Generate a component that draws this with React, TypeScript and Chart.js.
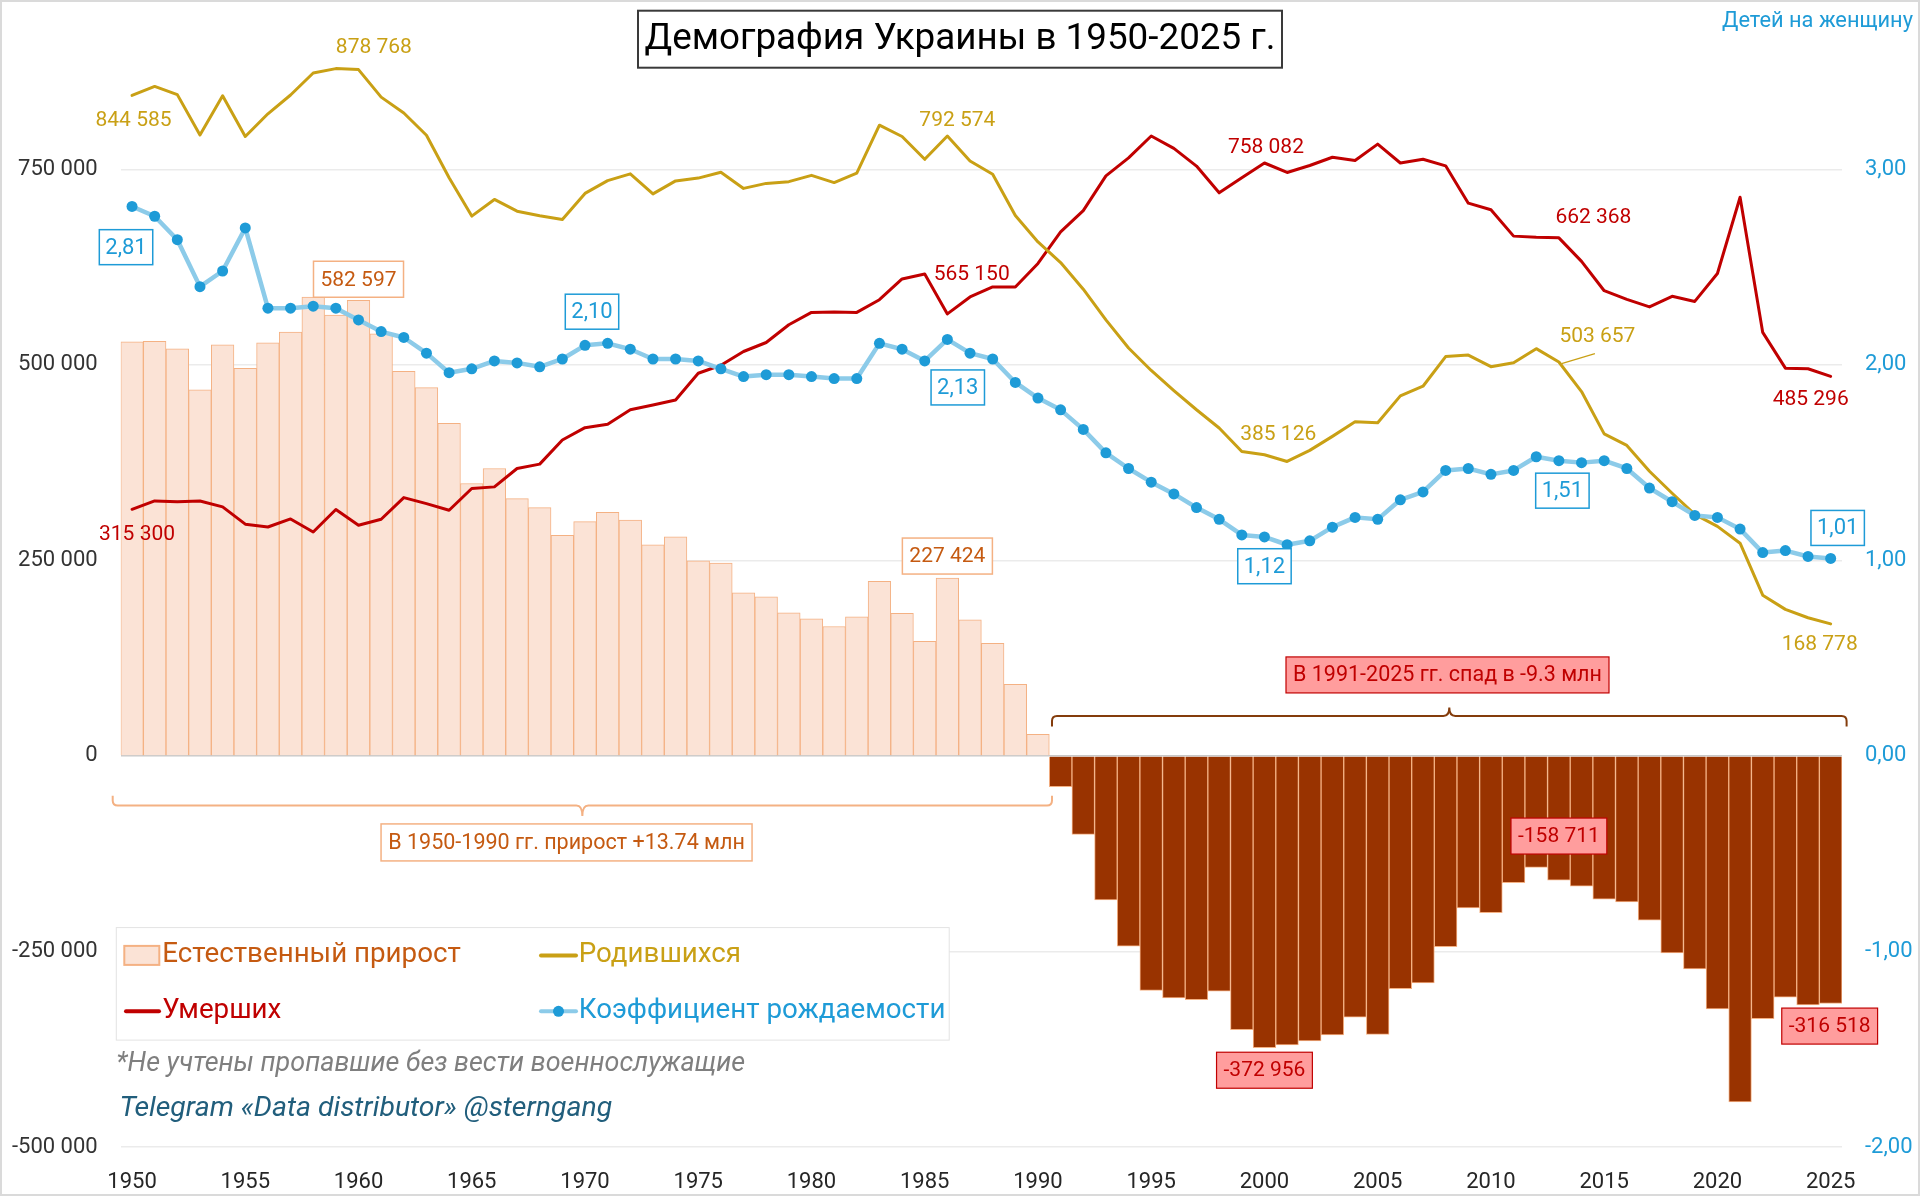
import React, { useEffect, useRef } from "react";
import { Chart, registerables } from "chart.js";

Chart.register(...registerables);

// ---------------- DATA ----------------
const years = [
  1950, 1951, 1952, 1953, 1954, 1955, 1956, 1957, 1958, 1959,
  1960, 1961, 1962, 1963, 1964, 1965, 1966, 1967, 1968, 1969,
  1970, 1971, 1972, 1973, 1974, 1975, 1976, 1977, 1978, 1979,
  1980, 1981, 1982, 1983, 1984, 1985, 1986, 1987, 1988, 1989,
  1990, 1991, 1992, 1993, 1994, 1995, 1996, 1997, 1998, 1999,
  2000, 2001, 2002, 2003, 2004, 2005, 2006, 2007, 2008, 2009,
  2010, 2011, 2012, 2013, 2014, 2015, 2016, 2017, 2018, 2019,
  2020, 2021, 2022, 2023, 2024, 2025,
];

// Родившихся
const births = [
  844585, 856000, 845500, 794000, 844000, 792000, 821000, 845000, 873100, 878768,
  877500, 842300, 822000, 793500, 739300, 690200, 711500, 696500, 690600, 685900,
  719200, 735500, 744200, 718600, 735200, 738800, 746200, 725600, 732000, 734200,
  742300, 733000, 745000, 806400, 792000, 762800, 792574, 760700, 743600, 691000,
  657202, 630813, 596785, 557467, 521545, 492861, 467211, 442581, 419238, 389208,
  385126, 376479, 390687, 408589, 427259, 426086, 460368, 472657, 510589, 512525,
  497689, 502595, 520705, 503657, 465882, 411781, 397037, 363987, 335874, 308817,
  293457, 271983, 205567, 187387, 176679, 168778,
];

// Умерших
const deaths = [
  315300, 326000, 325000, 326000, 318400, 296300, 292700, 303000, 286300, 315000,
  294900, 302600, 330300, 322600, 314100, 341900, 344000, 367500, 373100, 403900,
  419700, 424000, 442500, 448700, 455100, 489300, 499500, 517100, 528600, 551300,
  567100, 567500, 567100, 583300, 609800, 616200, 565150, 586800, 599600, 599600,
  629602, 669960, 697110, 741662, 764669, 792587, 776717, 754151, 719954, 739170,
  758082, 745952, 754911, 765408, 761263, 782189, 758093, 762877, 754460, 706739,
  698235, 664588, 663139, 662368, 632296, 594796, 583631, 574123, 587665, 581114,
  616835, 714263, 541500, 495800, 495000, 485296,
];

// Естественный прирост
const natural = [
  529285, 530000, 520500, 468000, 525600, 495700, 528300, 542000, 586800, 563768,
  582597, 539700, 491700, 470900, 425200, 348300, 367500, 329000, 317500, 282000,
  299500, 311500, 301700, 269900, 280100, 249500, 246700, 208500, 203400, 182900,
  175200, 165500, 177900, 223100, 182200, 146600, 227424, 173900, 144000, 91400,
  27600, -39147, -100325, -184195, -243124, -299726, -309506, -311570, -300716, -349962,
  -372956, -369473, -364224, -356819, -334004, -356103, -297725, -290220, -243871, -194214,
  -200546, -161993, -142434, -158711, -166414, -183015, -186594, -210136, -251791, -272297,
  -323378, -442280, -335900, -308400, -318300, -316518,
];

// Коэффициент рождаемости (детей на женщину)
const fertility = [
  2.81, 2.76, 2.64, 2.40, 2.48, 2.70, 2.29, 2.29, 2.30, 2.29,
  2.23, 2.17, 2.14, 2.06, 1.96, 1.98, 2.02, 2.01, 1.99, 2.03,
  2.10, 2.11, 2.08, 2.03, 2.03, 2.02, 1.98, 1.94, 1.95, 1.95,
  1.94, 1.93, 1.93, 2.11, 2.08, 2.02, 2.13, 2.06, 2.03, 1.91,
  1.83, 1.77, 1.67, 1.55, 1.47, 1.40, 1.34, 1.27, 1.21, 1.13,
  1.12, 1.08, 1.10, 1.17, 1.22, 1.21, 1.31, 1.35, 1.46, 1.47,
  1.44, 1.46, 1.53, 1.51, 1.50, 1.51, 1.47, 1.37, 1.30, 1.23,
  1.22, 1.16, 1.04, 1.05, 1.02, 1.01,
];

const leftTicks = [-500000, -250000, 0, 250000, 500000, 750000];
const rightTicks = [-2, -1, 0, 1, 2, 3];

const birthsLabelYears = [1950, 1959, 1986, 2000, 2013, 2025];
const deathsLabelYears = [1950, 1986, 2000, 2013, 2025];
const fertilityLabelYears = [1950, 1970, 1986, 2000, 2013, 2025];
const naturalLabelYears = [1960, 1986, 2000, 2013, 2025];

const periods = [
  { from: 1950, to: 1990, text: "В 1950-1990 гг. прирост +13.74 млн" },
  { from: 1991, to: 2025, text: "В 1991-2025 гг. спад в -9.3 млн" },
];

const titleText = "Демография Украины в 1950-2025 г.";
const rightAxisTitle = "Детей на женщину";
const noteText = "*Не учтены пропавшие без вести военнослужащие";
const sourceText = "Telegram «Data distributor» @sterngang";

// ---------------- STYLE ----------------
const FONT = 'Roboto, "Liberation Sans", Arial, sans-serif';
const C_BIRTH = "#C9A015";
const C_DEATH = "#C00000";
const C_RATE_LINE = "#8CCBE9";
const C_RATE = "#1E9BD7";
const C_POS_FILL = "#FBE3D6";
const C_POS_BORDER = "#F4B183";
const C_NEG_FILL = "#993300";
const C_BROWN_TEXT = "#C55A11";
const C_PINK = "#FF9D9D";

const birthsOffsets = [[1.5, 25], [38, -21], [10, -15.6], [13.8, -19.8], [38.5, -25.4], [-11, 21]];
const deathsOffsets = [[5, 25], [24.3, -39.6], [1.5, -15], [34.5, -20], [-20, 23.8]];
const fertilityOffsets = [[-6, 40.7], [7, -33.6], [10.4, 48], [0, 29.3], [3.5, 30], [7, -30.5]];
const naturalOffsets = [[0, -21], [0, -22], [0, 22.6], [0, -44], [-1, 22.6]];

const periodStyles = [
  { padL: -8, padR: 2.7, line: 49.6, end: 39.7, nub: 60, color: C_POS_BORDER, labelDx: -15.8, labelDy: 86.5,
    box: { fill: "#FFFFFF", stroke: C_POS_BORDER, color: C_BROWN_TEXT, textW: 357, h: 37, w: 371, lw: 1.5 } },
  { padL: 2.7, padR: 4.6, line: -40, end: -29.4, nub: -48.4, color: "#843C0C", labelDx: -1.8, labelDy: -81,
    box: { fill: C_PINK, stroke: C_DEATH, color: C_DEATH, textW: 309, h: 36, w: 323, lw: 1.2 } },
];

const fmtInt = (v: number) => {
  const s = Math.round(Math.abs(v)).toString().replace(/\B(?=(\d{3})+(?!\d))/g, " ");
  return (v < 0 ? "-" : "") + s;
};
const fmtRate = (v: number) => v.toFixed(2).replace(".", ",");

function fitSize(ctx: any, text: string, style: string, target: number) {
  ctx.font = `${style} 40px ${FONT}`;
  const w = ctx.measureText(text).width;
  return (40 * target) / w;
}

function boxLabel(ctx: any, text: string, cx: number, cy: number, o: any) {
  const size = o.size ?? fitSize(ctx, text, "", o.textW);
  ctx.font = `${size}px ${FONT}`;
  const tw = ctx.measureText(text).width;
  const w = o.w ?? tw + 2 * (o.padX ?? 6);
  const h = o.h;
  ctx.fillStyle = o.fill;
  ctx.fillRect(cx - w / 2, cy - h / 2, w, h);
  ctx.lineWidth = o.lw;
  ctx.strokeStyle = o.stroke;
  ctx.strokeRect(cx - w / 2, cy - h / 2, w, h);
  ctx.fillStyle = o.color;
  ctx.textAlign = "center";
  ctx.textBaseline = "middle";
  ctx.fillText(text, cx, cy + 1);
}

function plainLabel(ctx: any, text: string, cx: number, cy: number, color: string, size: number) {
  ctx.font = `${size}px ${FONT}`;
  ctx.fillStyle = color;
  ctx.textAlign = "center";
  ctx.textBaseline = "middle";
  ctx.fillText(text, cx, cy);
}

function brace(ctx: any, x0: number, x1: number, yEnd: number, yLine: number, yNub: number, color: string) {
  const xm = (x0 + x1) / 2;
  const r = 5;
  const s = Math.sign(yLine - yEnd);
  ctx.beginPath();
  ctx.moveTo(x0, yEnd);
  ctx.lineTo(x0, yLine - s * r);
  ctx.quadraticCurveTo(x0, yLine, x0 + r, yLine);
  ctx.lineTo(xm - 6, yLine);
  ctx.quadraticCurveTo(xm, yLine, xm, yNub);
  ctx.quadraticCurveTo(xm, yLine, xm + 6, yLine);
  ctx.lineTo(x1 - r, yLine);
  ctx.quadraticCurveTo(x1, yLine, x1, yLine - s * r);
  ctx.lineTo(x1, yEnd);
  ctx.strokeStyle = color;
  ctx.lineWidth = 2;
  ctx.stroke();
}

const overlay = {
  id: "overlay",
  beforeDraw(chart: any) {
    const { ctx, width, height } = chart;
    ctx.save();
    ctx.fillStyle = "#FFFFFF";
    ctx.fillRect(0, 0, width, height);
    ctx.restore();
  },
  afterDraw(chart: any) {
    const ctx = chart.ctx;
    const xS = chart.scales.x;
    const yS = chart.scales.y;
    const rS = chart.scales.y1;
    const idx = (yr: number) => years.indexOf(yr);
    const xAt = (yr: number) => xS.getPixelForValue(idx(yr));
    const half = (xS.getPixelForValue(1) - xS.getPixelForValue(0)) / 2;
    const zero = yS.getPixelForValue(0);
    ctx.save();

    // frame
    ctx.strokeStyle = "#DADADA";
    ctx.lineWidth = 2;
    ctx.strokeRect(1, 1, chart.width - 2, chart.height - 2);

    // title
    ctx.fillStyle = "#FFFFFF";
    ctx.fillRect(638, 10.7, 644, 57);
    ctx.strokeStyle = "#3A3A3A";
    ctx.lineWidth = 2;
    ctx.strokeRect(638, 10.7, 644, 57);
    const tSize = fitSize(ctx, titleText, "", 631);
    plainLabel(ctx, titleText, 960, 40, "#000000", tSize);

    // right axis title
    const raSize = fitSize(ctx, rightAxisTitle, "", 191);
    ctx.font = `${raSize}px ${FONT}`;
    ctx.fillStyle = C_RATE;
    ctx.textAlign = "right";
    ctx.textBaseline = "middle";
    ctx.fillText(rightAxisTitle, 1913, 22);

    // brackets
    periods.forEach((p, k) => {
      const st = periodStyles[k];
      const x0 = xAt(p.from) - half + st.padL;
      const x1 = xAt(p.to) + half + st.padR;
      brace(ctx, x0, x1, zero + st.end, zero + st.line, zero + st.nub, st.color);
      boxLabel(ctx, p.text, (x0 + x1) / 2 + st.labelDx, zero + st.labelDy, st.box);
    });

    // births labels
    birthsLabelYears.forEach((yr, k) => {
      const i = idx(yr);
      const px = xAt(yr);
      const py = yS.getPixelForValue(births[i]);
      const [dx, dy] = birthsOffsets[k];
      if (yr === 2013) {
        ctx.beginPath();
        ctx.moveTo(px + 2.7, py + 1.6);
        ctx.lineTo(px + 36, py - 8.4);
        ctx.strokeStyle = C_BIRTH;
        ctx.lineWidth = 1.2;
        ctx.stroke();
      }
      plainLabel(ctx, fmtInt(births[i]), px + dx, py + dy, C_BIRTH, 21);
    });

    // deaths labels
    deathsLabelYears.forEach((yr, k) => {
      const i = idx(yr);
      const px = xAt(yr);
      const py = yS.getPixelForValue(deaths[i]);
      const [dx, dy] = deathsOffsets[k];
      plainLabel(ctx, fmtInt(deaths[i]), px + dx, py + dy, C_DEATH, 21);
    });

    // natural labels
    naturalLabelYears.forEach((yr, k) => {
      const i = idx(yr);
      const px = xAt(yr);
      const py = yS.getPixelForValue(natural[i]);
      const [dx, dy] = naturalOffsets[k];
      const pos = natural[i] >= 0;
      boxLabel(ctx, fmtInt(natural[i]), px + dx, py + dy, {
        size: 21, padX: 7, h: 36,
        fill: pos ? "#FFFFFF" : C_PINK,
        stroke: pos ? C_POS_BORDER : C_DEATH,
        color: pos ? C_BROWN_TEXT : C_DEATH,
        lw: pos ? 1.5 : 1.2,
      });
    });

    // fertility labels
    fertilityLabelYears.forEach((yr, k) => {
      const i = idx(yr);
      const px = xAt(yr);
      const py = rS.getPixelForValue(fertility[i]);
      const [dx, dy] = fertilityOffsets[k];
      boxLabel(ctx, fmtRate(fertility[i]), px + dx, py + dy, {
        size: 22, padX: 6, h: 35, fill: "#FFFFFF", stroke: C_RATE, color: C_RATE, lw: 1.5,
      });
    });

    // legend
    const ds = chart.data.datasets;
    ctx.fillStyle = "#FFFFFF";
    ctx.fillRect(116.3, 927.6, 832.9, 112.5);
    ctx.strokeStyle = "#E3E3E3";
    ctx.lineWidth = 1;
    ctx.strokeRect(116.3, 927.6, 832.9, 112.5);
    const lgSize = fitSize(ctx, ds[3].label, "", 367);
    const row1 = 955.4;
    const row2 = 1011.3;
    // bar swatch
    ctx.fillStyle = C_POS_FILL;
    ctx.fillRect(124.3, 945.9, 35, 19);
    ctx.strokeStyle = C_POS_BORDER;
    ctx.lineWidth = 2;
    ctx.strokeRect(124.3, 945.9, 35, 19);
    const legendText = (t: string, x: number, y: number, c: string) => {
      ctx.font = `${lgSize}px ${FONT}`;
      ctx.fillStyle = c;
      ctx.textAlign = "left";
      ctx.textBaseline = "middle";
      ctx.fillText(t, x, y);
    };
    const legendLine = (x0: number, x1: number, y: number, c: string) => {
      ctx.beginPath();
      ctx.moveTo(x0, y);
      ctx.lineTo(x1, y);
      ctx.strokeStyle = c;
      ctx.lineWidth = 4;
      ctx.lineCap = "round";
      ctx.stroke();
    };
    legendText(ds[0].label, 162.3, row1, C_BROWN_TEXT);
    legendLine(541, 576, row1, C_BIRTH);
    legendText(ds[2].label, 578.7, row1, C_BIRTH);
    legendLine(126, 159, row2, C_DEATH);
    legendText(ds[1].label, 162.3, row2, C_DEATH);
    legendLine(541, 576, row2, C_RATE_LINE);
    ctx.beginPath();
    ctx.arc(558.5, row2, 5.5, 0, Math.PI * 2);
    ctx.fillStyle = C_RATE;
    ctx.fill();
    legendText(ds[3].label, 578.7, row2, C_RATE);

    // notes
    const nSize = fitSize(ctx, noteText, "italic", 629);
    ctx.font = `italic ${nSize}px ${FONT}`;
    ctx.fillStyle = "#7F7F7F";
    ctx.textAlign = "left";
    ctx.textBaseline = "middle";
    ctx.fillText(noteText, 116.3, 1064.5);
    const sSize = fitSize(ctx, sourceText, "italic", 493);
    ctx.font = `italic ${sSize}px ${FONT}`;
    ctx.fillStyle = "#215E7C";
    ctx.fillText(sourceText, 119.4, 1108.6);

    ctx.restore();
  },
};

export default function App() {
  const ref = useRef<HTMLCanvasElement | null>(null);

  useEffect(() => {
    document.body.style.margin = "0";
    document.body.style.overflow = "hidden";
    const canvas = ref.current;
    if (!canvas) return;
    const chart = new Chart(canvas, {
      type: "bar",
      data: {
        labels: years.map(String),
        datasets: [
          {
            type: "bar",
            label: "Естественный прирост",
            data: natural,
            yAxisID: "y",
            backgroundColor: (c: any) => ((c.raw ?? 0) >= 0 ? C_POS_FILL : C_NEG_FILL),
            borderColor: C_POS_BORDER,
            borderWidth: 1,
            categoryPercentage: 1,
            barPercentage: 1,
            order: 3,
          } as any,
          {
            type: "line",
            label: "Умерших",
            data: deaths,
            yAxisID: "y",
            borderColor: C_DEATH,
            borderWidth: 3,
            pointRadius: 0,
            tension: 0,
            borderJoinStyle: "round",
            borderCapStyle: "round",
            order: 2,
          },
          {
            type: "line",
            label: "Родившихся",
            data: births,
            yAxisID: "y",
            borderColor: C_BIRTH,
            borderWidth: 3,
            pointRadius: 0,
            tension: 0,
            borderJoinStyle: "round",
            borderCapStyle: "round",
            order: 1,
          },
          {
            type: "line",
            label: "Коэффициент рождаемости",
            data: fertility,
            yAxisID: "y1",
            borderColor: C_RATE_LINE,
            borderWidth: 4.5,
            pointRadius: 5.5,
            pointBackgroundColor: C_RATE,
            pointBorderWidth: 0,
            tension: 0,
            borderJoinStyle: "round",
            order: 0,
          },
        ],
      },
      options: {
        responsive: false,
        maintainAspectRatio: false,
        animation: false,
        devicePixelRatio: 1,
        layout: { padding: { top: 52, left: 0, right: 0, bottom: 0 } },
        plugins: {
          legend: { display: false },
          tooltip: { enabled: false },
          title: { display: false },
        },
        scales: {
          x: {
            type: "category",
            grid: { display: false, drawTicks: false },
            border: { display: false },
            ticks: {
              autoSkip: false,
              maxRotation: 0,
              minRotation: 0,
              padding: 22,
              color: "#262626",
              font: { family: FONT, size: 22 },
              callback: (_v: any, i: number) => (years[i] % 5 === 0 ? String(years[i]) : ""),
            },
            afterFit: (s: any) => {
              s.height = 49;
            },
          },
          y: {
            position: "left",
            min: -500000,
            max: 900000,
            afterBuildTicks: (s: any) => {
              s.ticks = leftTicks.map((v) => ({ value: v }));
            },
            grid: {
              color: (c: any) => (c.tick && c.tick.value === 0 ? "#C8C8C8" : "#EBEBEB"),
              lineWidth: 1.5,
              drawTicks: false,
            },
            border: { display: false },
            ticks: {
              padding: 23,
              color: "#333333",
              font: { family: FONT, size: 22 },
              callback: (v: any) => fmtInt(Number(v)),
            },
            afterFit: (s: any) => {
              s.width = 120.7;
            },
          },
          y1: {
            position: "right",
            min: -2,
            max: 3.6,
            afterBuildTicks: (s: any) => {
              s.ticks = rightTicks.map((v) => ({ value: v }));
            },
            grid: { display: false, drawTicks: false },
            border: { display: false },
            ticks: {
              padding: 23,
              color: C_RATE,
              font: { family: FONT, size: 22 },
              callback: (v: any) => fmtRate(Number(v)),
            },
            afterFit: (s: any) => {
              s.width = 78;
            },
          },
        },
      } as any,
      plugins: [overlay],
    });
    return () => chart.destroy();
  }, []);

  return (
    <div style={{ width: 1920, height: 1196, position: "relative" }}>
      <canvas ref={ref} width={1920} height={1196} style={{ display: "block", width: 1920, height: 1196 }} />
    </div>
  );
}
